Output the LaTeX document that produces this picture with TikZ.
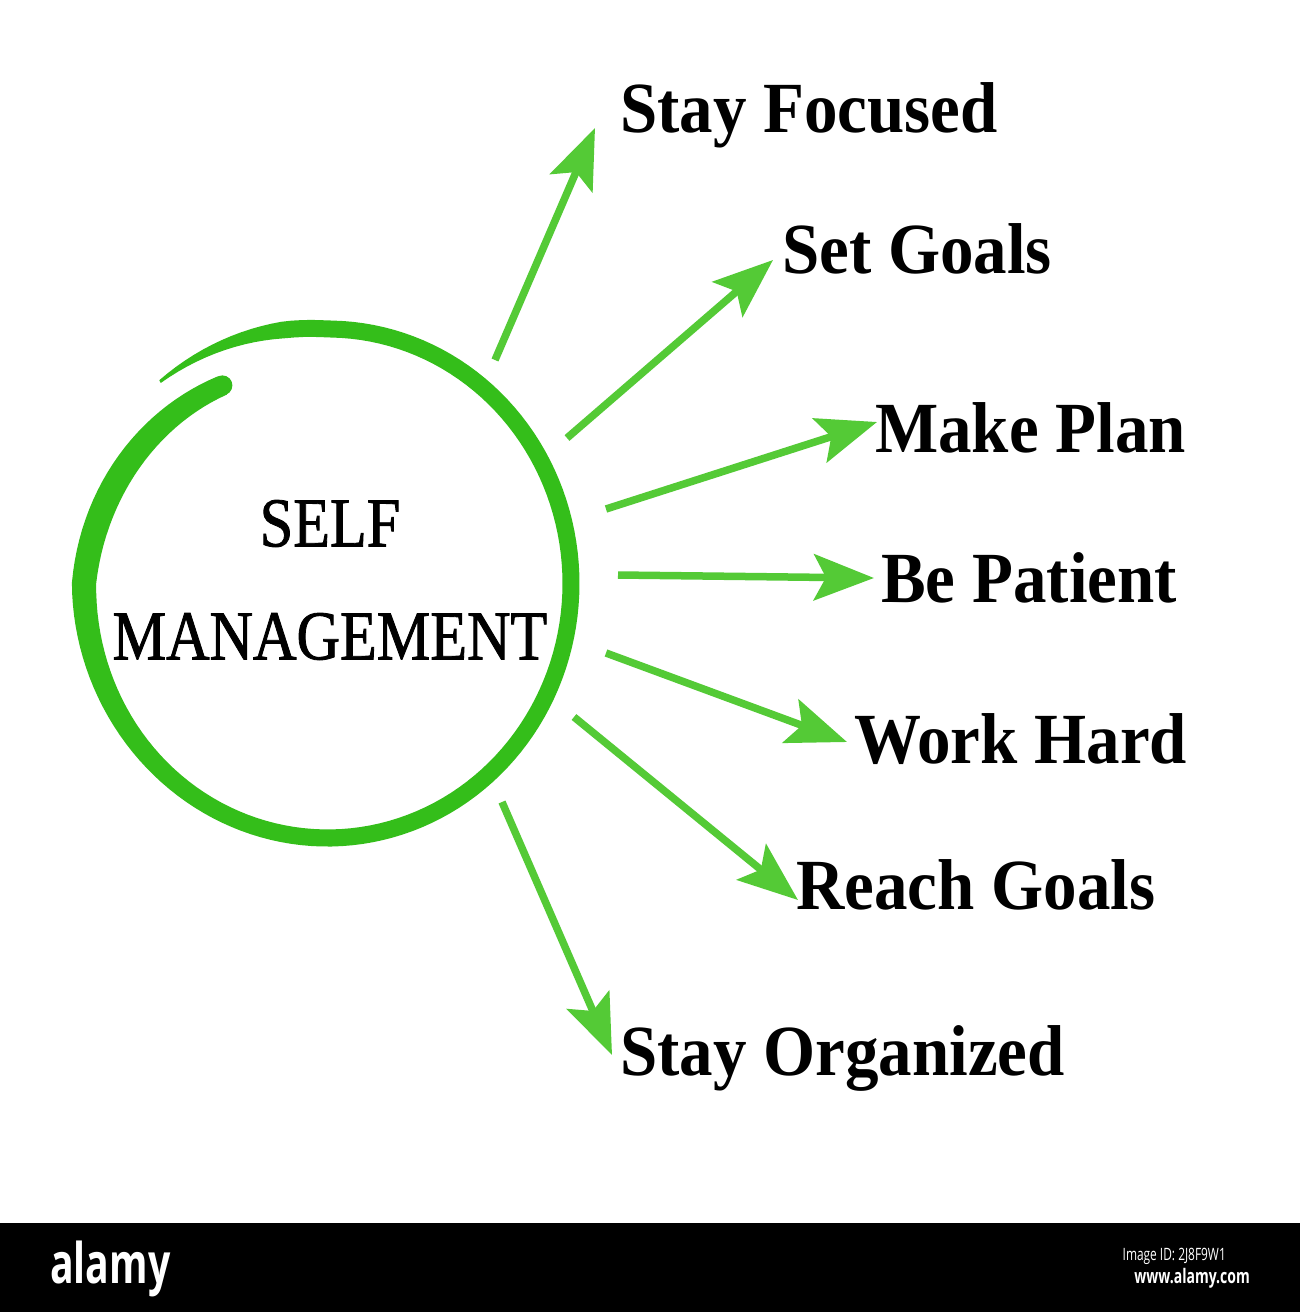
\documentclass[tikz,border=0pt]{standalone}
\usepackage{fontspec}
\setmainfont{Liberation Serif}
\newfontfamily\goalfamily{Liberation Serif}[FakeStretch=0.93]
\newfontfamily\headfamily{Liberation Serif}[FakeStretch=0.86, FakeBold=1.2]
\newfontfamily\stampfamily{Open Sans}[FakeStretch=0.7]
\usetikzlibrary{arrows.meta}
\definecolor{ringgreen}{RGB}{52,190,26}
\definecolor{arrowgreen}{RGB}{84,202,54}
\tikzstyle{goal} =
        [
                anchor = base west,
                inner sep = 0pt,
                font = \goalfamily\bfseries\fontsize{72}{80}\selectfont
        ]
\tikzstyle{heading} =
        [
                align = center,
                inner sep = 0pt,
                font = \headfamily\fontsize{70}{113}\selectfont
        ]
\tikzstyle{line} =
        [
                draw = arrowgreen,
                line width = 7.5pt,
                -{Stealth[length=60pt, width=46pt, inset=12pt]}
        ]
\tikzstyle{stamp} =
        [
                text = white,
                inner sep = 0pt
        ]

\begin{document}
\begin{tikzpicture}[x = 1pt, y = -1pt,
        declare function = {
                ringang(\s) = 241-372*\s;
                ringk(\t) = 1-0.11*max(\t-180,0)/61+0.05*max(-90-\t,0)/41;
                ringw(\t) = 17+8*exp(-min(((\t-195)/50)^2,12))-14*max(-100-\t,0)/31;
        }]
        \useasboundingbox [fill = white] (0,0) rectangle (1300,1312);
        % hand drawn ring
        \fill [ringgreen] plot [domain = 0:1, samples = 160, variable = \s]
                ({327.5+(ringk(ringang(\s))*243.5+ringw(ringang(\s))/2)*cos(ringang(\s))},
                 {583.5+(ringk(ringang(\s))*254.5+ringw(ringang(\s))/2)*sin(ringang(\s))})
                -- plot [domain = 1:0, samples = 160, variable = \s]
                ({327.5+(ringk(ringang(\s))*243.5-ringw(ringang(\s))/2)*cos(ringang(\s))},
                 {583.5+(ringk(ringang(\s))*254.5-ringw(ringang(\s))/2)*sin(ringang(\s))})
                -- cycle;
        \fill [ringgreen] (222.4,385.4) circle (10);
        \node [heading] (self) at (330,580) {SELF\\MANAGEMENT};
        \node [goal] (focus) at (620,132) {Stay Focused};
        \node [goal] (setgoals) at (782,273) {Set Goals};
        \node [goal] (plan) at (875,452) {Make Plan};
        \node [goal] (patient) at (881,602) {Be Patient};
        \node [goal] (hard) at (854,763) {Work Hard};
        \node [goal] (reach) at (796,909) {Reach Goals};
        \node [goal] (organized) at (620,1075) {Stay Organized};
        \coordinate (fromFocus) at (495,360);
        \coordinate (fromSet) at (567,438);
        \coordinate (fromPlan) at (606,509);
        \coordinate (fromPatient) at (618,575);
        \coordinate (fromHard) at (606,653);
        \coordinate (fromReach) at (574,717);
        \coordinate (fromOrganized) at (502,802);
        \path [line] (fromFocus) -- ([shift={(-25,-4)}]focus.base west);
        \path [line] (fromSet) -- ([shift={(-9,-13)}]setgoals.base west);
        \path [line] (fromPlan) -- ([shift={(2,-30)}]plan.base west);
        \path [line] (fromPatient) -- ([shift={(-7,-24)}]patient.base west);
        \path [line] (fromHard) -- ([shift={(-7,-21)}]hard.base west);
        \path [line] (fromReach) -- ([shift={(2,-9)}]reach.base west);
        \path [line] (fromOrganized) -- ([shift={(-8,-20)}]organized.base west);
        % bottom bar
        \fill [black] (0,1223) rectangle (1300,1312);
        \node [stamp, anchor = base west, font = \stampfamily\bfseries\fontsize{56}{58}\selectfont] (logo) at (50,1283) {alamy};
        \node [stamp, anchor = base east, font = \stampfamily\fontsize{17}{19}\selectfont] (imageid) at (1226,1260) {Image ID: 2J8F9W1};
        \node [stamp, anchor = base east, font = \stampfamily\bfseries\fontsize{20}{22}\selectfont] (site) at (1250,1283) {www.alamy.com};
\end{tikzpicture}
\end{document}
